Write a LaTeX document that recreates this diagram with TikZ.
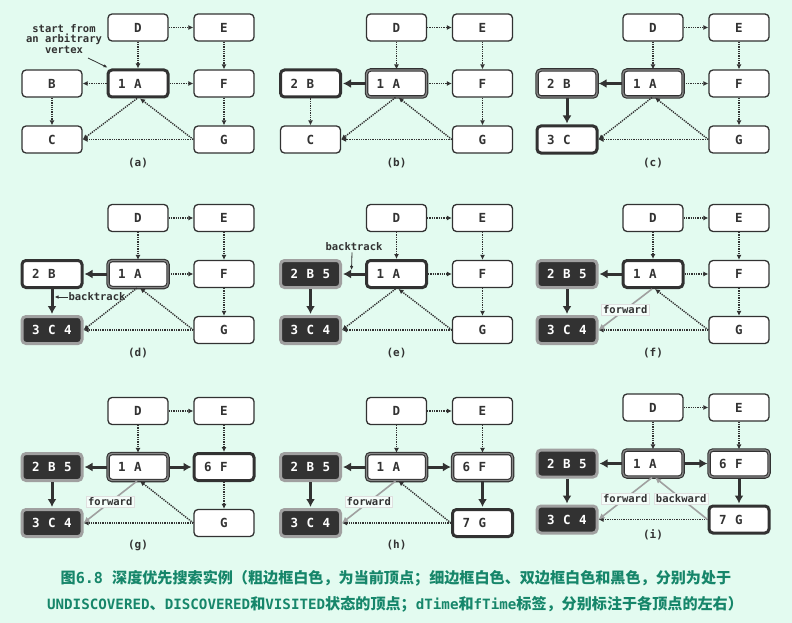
\documentclass[tikz,border=0pt]{standalone}
\usepackage{fontspec}
\setmonofont{DejaVu Sans Mono}
\newfontfamily\cjk{Noto Sans CJK SC}
\usetikzlibrary{arrows.meta}
\definecolor{bg}{RGB}{227,251,240}
\definecolor{ink}{RGB}{50,50,50}
\definecolor{ring}{RGB}{160,160,160}
\definecolor{capc}{RGB}{22,134,106}
\tikzset{
 vbase/.style={rectangle, rounded corners=4pt, minimum width=60pt, minimum height=27pt, inner sep=0pt, font=\ttfamily\bfseries\fontsize{12.5}{13}\selectfont},
 undisc/.style={vbase, draw=ink, line width=1.3pt, fill=white, text=ink},
 cur/.style={vbase, draw=ink, line width=3pt, fill=white, text=ink},
 disc/.style={vbase, draw=ink, double=ring!85!black, line width=1.1pt, double distance=1.3pt, fill=white, text=ink},
 visited/.style={vbase, draw=ring, line width=3pt, fill=ink, text=white},
 dot/.style={draw=ink, line width=1.4pt, dash pattern=on 1.3pt off 1.0pt, -{Latex[length=5pt,width=5pt]}},
 tree/.style={draw=ink, line width=3pt, shorten >=1pt, -{Latex[length=8pt,width=9pt]}},
 fwd/.style={draw=ring, line width=1.6pt, -{Latex[length=6pt,width=6pt]}},
 thinarrow/.style={draw=ink, line width=0.8pt, -{Latex[length=4pt,width=3.5pt]}},
 elabel/.style={fill=bg!40!white, draw=gray!25, line width=0.4pt, inner sep=1.5pt, font=\ttfamily\bfseries\fontsize{10.5}{12}\selectfont, text=ink},
 plabel/.style={font=\ttfamily\bfseries\fontsize{10.5}{12}\selectfont, text=ink},
 panlabel/.style={font=\ttfamily\bfseries\fontsize{11}{12}\selectfont, text=ink},
}
\newcommand{\vtx}[6]{\node[#2] (#1) at #3 {\makebox[32pt]{\makebox[0pt]{#5}\hfill\makebox[0pt]{#4}\hfill\makebox[0pt]{#6}}};}
\newcommand{\fixedges}[1]{%
 \draw[dot] (#1D) -- (#1E);
 \draw[dot] (#1D) -- (#1A);
 \draw[dot] (#1E) -- (#1F);
 \draw[dot] (#1G.west) -- (#1C.east);}
\newcommand{\cj}[1]{{\cjk\bfseries\fontsize{15.1}{16}\selectfont #1}}
\begin{document}
\begin{tikzpicture}[x=1pt,y=-1pt]
\useasboundingbox (0,0) rectangle (792,623);
\fill[bg] (0,0) rectangle (792,623);

% (a)
\begin{scope}[shift={(138,83.5)}]
\vtx{a-D}{undisc}{(0,-56)}{D}{}{}
\vtx{a-E}{undisc}{(86,-56)}{E}{}{}
\vtx{a-B}{undisc}{(-86,0)}{B}{}{}
\vtx{a-A}{cur}{(0,0)}{A}{1}{}
\vtx{a-F}{undisc}{(86,0)}{F}{}{}
\vtx{a-C}{undisc}{(-86,56)}{C}{}{}
\vtx{a-G}{undisc}{(86,56)}{G}{}{}
\fixedges{a-}
\draw[dot] (a-A) -- (a-B);
\draw[dot] (a-A) -- (a-F);
\draw[dot] (a-B) -- (a-C);
\draw[dot] (a-F) -- (a-G);
\draw[dot] ([xshift=-1pt]a-A.south) -- (a-C.east);
\draw[dot] (a-G.west) -- ([xshift=2pt]a-A.south);
\node[panlabel] (a-lbl) at (0,79.5) {(a)};
\node[plabel, align=center, inner sep=0pt] (a-note) at (-74,-44.5) {start from\\[-1.5pt]an arbitrary\\[-1.5pt]vertex};
\coordinate (a-ns) at (-50,-25.5);
\draw[thinarrow] (a-ns) -- ([shift={(1pt,1pt)}]a-A.north west);
\end{scope}

% (b)
\begin{scope}[shift={(396.5,83.5)}]
\vtx{b-D}{undisc}{(0,-56)}{D}{}{}
\vtx{b-E}{undisc}{(86,-56)}{E}{}{}
\vtx{b-B}{cur}{(-86,0)}{B}{2}{}
\vtx{b-A}{disc}{(0,0)}{A}{1}{}
\vtx{b-F}{undisc}{(86,0)}{F}{}{}
\vtx{b-C}{undisc}{(-86,56)}{C}{}{}
\vtx{b-G}{undisc}{(86,56)}{G}{}{}
\fixedges{b-}
\draw[tree] (b-A) -- (b-B);
\draw[dot] (b-A) -- (b-F);
\draw[dot] (b-B) -- (b-C);
\draw[dot] (b-F) -- (b-G);
\draw[dot] ([xshift=-1pt]b-A.south) -- (b-C.east);
\draw[dot] (b-G.west) -- ([xshift=2pt]b-A.south);
\node[panlabel] (b-lbl) at (0,79.5) {(b)};
\end{scope}

% (c)
\begin{scope}[shift={(653,83.5)}]
\vtx{c-D}{undisc}{(0,-56)}{D}{}{}
\vtx{c-E}{undisc}{(86,-56)}{E}{}{}
\vtx{c-B}{disc}{(-86,0)}{B}{2}{}
\vtx{c-A}{disc}{(0,0)}{A}{1}{}
\vtx{c-F}{undisc}{(86,0)}{F}{}{}
\vtx{c-C}{cur}{(-86,56)}{C}{3}{}
\vtx{c-G}{undisc}{(86,56)}{G}{}{}
\fixedges{c-}
\draw[tree] (c-A) -- (c-B);
\draw[tree] (c-B) -- (c-C);
\draw[dot] (c-A) -- (c-F);
\draw[dot] (c-F) -- (c-G);
\draw[dot] ([xshift=-1pt]c-A.south) -- (c-C.east);
\draw[dot] (c-G.west) -- ([xshift=2pt]c-A.south);
\node[panlabel] (c-lbl) at (0,79.5) {(c)};
\end{scope}

% (d)
\begin{scope}[shift={(138,274)}]
\vtx{d-D}{undisc}{(0,-56)}{D}{}{}
\vtx{d-E}{undisc}{(86,-56)}{E}{}{}
\vtx{d-B}{cur}{(-86,0)}{B}{2}{}
\vtx{d-A}{disc}{(0,0)}{A}{1}{}
\vtx{d-F}{undisc}{(86,0)}{F}{}{}
\vtx{d-C}{visited}{(-86,56)}{C}{3}{4}
\vtx{d-G}{undisc}{(86,56)}{G}{}{}
\fixedges{d-}
\draw[tree] (d-A) -- (d-B);
\draw[tree] (d-B) -- (d-C);
\draw[dot] (d-A) -- (d-F);
\draw[dot] (d-F) -- (d-G);
\draw[dot] ([xshift=-1pt]d-A.south) -- (d-C.east);
\draw[dot] (d-G.west) -- ([xshift=2pt]d-A.south);
\node[plabel, inner sep=0.5pt] (d-bt) at (-41,23) {backtrack};
\coordinate (d-btp) at (-83.5,23);
\draw[thinarrow] (d-bt.west) -- (d-btp);
\node[panlabel] (d-lbl) at (0,79) {(d)};
\end{scope}

% (e)
\begin{scope}[shift={(396.5,274)}]
\vtx{e-D}{undisc}{(0,-56)}{D}{}{}
\vtx{e-E}{undisc}{(86,-56)}{E}{}{}
\vtx{e-B}{visited}{(-86,0)}{B}{2}{5}
\vtx{e-A}{cur}{(0,0)}{A}{1}{}
\vtx{e-F}{undisc}{(86,0)}{F}{}{}
\vtx{e-C}{visited}{(-86,56)}{C}{3}{4}
\vtx{e-G}{undisc}{(86,56)}{G}{}{}
\fixedges{e-}
\draw[tree] (e-A) -- (e-B);
\draw[tree] (e-B) -- (e-C);
\draw[dot] (e-A) -- (e-F);
\draw[dot] (e-F) -- (e-G);
\draw[dot] ([xshift=-1pt]e-A.south) -- (e-C.east);
\draw[dot] (e-G.west) -- ([xshift=2pt]e-A.south);
\node[plabel, inner sep=1pt] (e-bt) at (-42.5,-27) {backtrack};
\coordinate (e-btp) at (-45,-4);
\draw[thinarrow] ([xshift=-2pt]e-bt.south) -- (e-btp);
\node[panlabel] (e-lbl) at (0,79) {(e)};
\end{scope}

% (f)
\begin{scope}[shift={(653,274)}]
\vtx{f-D}{undisc}{(0,-56)}{D}{}{}
\vtx{f-E}{undisc}{(86,-56)}{E}{}{}
\vtx{f-B}{visited}{(-86,0)}{B}{2}{5}
\vtx{f-A}{cur}{(0,0)}{A}{1}{}
\vtx{f-F}{undisc}{(86,0)}{F}{}{}
\vtx{f-C}{visited}{(-86,56)}{C}{3}{4}
\vtx{f-G}{undisc}{(86,56)}{G}{}{}
\fixedges{f-}
\draw[tree] (f-A) -- (f-B);
\draw[tree] (f-B) -- (f-C);
\draw[dot] (f-A) -- (f-F);
\draw[dot] (f-F) -- (f-G);
\draw[fwd] ([xshift=-1pt]f-A.south) -- node[elabel] (f-fw) {forward} (f-C.east);
\draw[dot] (f-G.west) -- ([xshift=2pt]f-A.south);
\node[panlabel] (f-lbl) at (0,79) {(f)};
\end{scope}

% (g)
\begin{scope}[shift={(138,467)}]
\vtx{g-D}{undisc}{(0,-56)}{D}{}{}
\vtx{g-E}{undisc}{(86,-56)}{E}{}{}
\vtx{g-B}{visited}{(-86,0)}{B}{2}{5}
\vtx{g-A}{disc}{(0,0)}{A}{1}{}
\vtx{g-F}{cur}{(86,0)}{F}{6}{}
\vtx{g-C}{visited}{(-86,56)}{C}{3}{4}
\vtx{g-G}{undisc}{(86,56)}{G}{}{}
\fixedges{g-}
\draw[tree] (g-A) -- (g-B);
\draw[tree] (g-B) -- (g-C);
\draw[tree] (g-A) -- (g-F);
\draw[dot] (g-F) -- (g-G);
\draw[fwd] ([xshift=-1pt]g-A.south) -- node[elabel] (g-fw) {forward} (g-C.east);
\draw[dot] (g-G.west) -- ([xshift=2pt]g-A.south);
\node[panlabel] (g-lbl) at (0,78) {(g)};
\end{scope}

% (h)
\begin{scope}[shift={(396.5,467)}]
\vtx{h-D}{undisc}{(0,-56)}{D}{}{}
\vtx{h-E}{undisc}{(86,-56)}{E}{}{}
\vtx{h-B}{visited}{(-86,0)}{B}{2}{5}
\vtx{h-A}{disc}{(0,0)}{A}{1}{}
\vtx{h-F}{disc}{(86,0)}{F}{6}{}
\vtx{h-C}{visited}{(-86,56)}{C}{3}{4}
\vtx{h-G}{cur}{(86,56)}{G}{7}{}
\fixedges{h-}
\draw[tree] (h-A) -- (h-B);
\draw[tree] (h-B) -- (h-C);
\draw[tree] (h-A) -- (h-F);
\draw[tree] (h-F) -- (h-G);
\draw[fwd] ([xshift=-1pt]h-A.south) -- node[elabel] (h-fw) {forward} (h-C.east);
\draw[dot] (h-G.west) -- ([xshift=2pt]h-A.south);
\node[panlabel] (h-lbl) at (0,78) {(h)};
\end{scope}

% (i)
\begin{scope}[shift={(653,463.5)}]
\vtx{i-D}{undisc}{(0,-56)}{D}{}{}
\vtx{i-E}{undisc}{(86,-56)}{E}{}{}
\vtx{i-B}{visited}{(-86,0)}{B}{2}{5}
\vtx{i-A}{disc}{(0,0)}{A}{1}{}
\vtx{i-F}{disc}{(86,0)}{F}{6}{}
\vtx{i-C}{visited}{(-86,56)}{C}{3}{4}
\vtx{i-G}{cur}{(86,56)}{G}{7}{}
\fixedges{i-}
\draw[tree] (i-A) -- (i-B);
\draw[tree] (i-B) -- (i-C);
\draw[tree] (i-A) -- (i-F);
\draw[tree] (i-F) -- (i-G);
\draw[fwd] ([xshift=-1pt]i-A.south) -- node[elabel] (i-fw) {forward} (i-C.east);
\draw[fwd] (i-G.west) -- node[elabel] (i-bw) {backward} ([xshift=2pt]i-A.south);
\node[panlabel] (i-lbl) at (0,71.5) {(i)};
\end{scope}

% caption
\node[text=capc, font=\ttfamily\bfseries\fontsize{15.1}{16}\selectfont, inner sep=0pt] (cap1) at (396,578)
 {\cj{图}6.8 \cj{深度优先搜索实例（粗边框白色，为当前顶点；细边框白色、双边框白色和黑色，分别为处于}};
\node[text=capc, font=\ttfamily\bfseries\fontsize{14.2}{16}\selectfont, inner sep=0pt] (cap2) at (395,604)
 {UNDISCOVERED\cj{、}DISCOVERED\cj{和}VISITED\cj{状态的顶点；}dTime\cj{和}fTime\cj{标签，分别标注于各顶点的左右）}};
\end{tikzpicture}
\end{document}
